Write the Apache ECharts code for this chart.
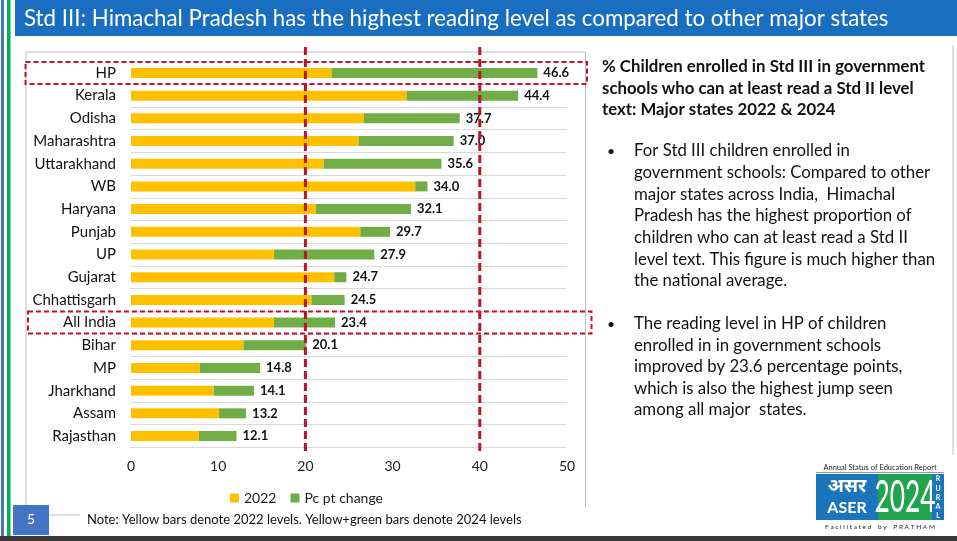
<!DOCTYPE html>
<html><head><meta charset="utf-8">
<script src="https://cdn.jsdelivr.net/npm/echarts@6/dist/echarts.min.js"></script>
<style>html,body{margin:0;padding:0;background:#fff;}#c{width:957px;height:541px;}</style>
</head><body><div id="c"></div>
<script>
const categories = ['HP','Kerala','Odisha','Maharashtra','Uttarakhand','WB','Haryana','Punjab','UP','Gujarat','Chhattisgarh','All India','Bihar','MP','Jharkhand','Assam','Rajasthan'];
const level2022 = [23.0,31.6,26.7,26.1,22.1,32.6,21.2,26.3,16.4,23.3,20.7,16.4,12.9,7.9,9.5,10.1,7.8];
const level2024 = [46.6,44.4,37.7,37.0,35.6,34.0,32.1,29.7,27.9,24.7,24.5,23.4,20.1,14.8,14.1,13.2,12.1];
const change = level2024.map((v,i)=>Math.round((v-level2022[i])*10)/10);
const refLines = [20,40];
const highlighted = ['HP','All India'];
const FONT = 'Lato, "Open Sans", sans-serif';

const chart = echarts.init(document.getElementById('c'));
chart.setOption({
  animation:false,
  textStyle:{fontFamily:FONT},
  grid:{left:131,right:390,top:61.6,height:385.8,containLabel:false},
  xAxis:{type:'value',min:0,max:50,interval:10,
    axisLine:{show:false},axisTick:{show:false},splitLine:{show:false},
    axisLabel:{fontSize:14,color:'#222',margin:12,fontFamily:FONT}},
  yAxis:{type:'category',data:categories,inverse:true,
    axisLine:{show:false},axisTick:{show:false},
    splitLine:{show:true,lineStyle:{color:'#d9d9d9',width:1}},
    axisLabel:{fontSize:15,color:'#111',margin:15,fontFamily:FONT}},
  legend:{left:225,top:486,itemWidth:9,itemHeight:9,itemGap:14,icon:'rect',
    textStyle:{fontSize:14,color:'#222',fontFamily:FONT},data:['2022','Pc pt change']},
  series:[
    {name:'2022',type:'bar',stack:'t',data:level2022,barWidth:10,itemStyle:{color:'#FFC000'}},
    {name:'Pc pt change',type:'bar',stack:'t',data:change,barWidth:10,itemStyle:{color:'#70AD47'},
     label:{show:true,position:'right',distance:6,fontSize:13,fontWeight:'bold',color:'#111',fontFamily:FONT,
       formatter:p=>level2024[p.dataIndex].toFixed(1)}}
  ]
});

function buildGraphics(){
  const g = [];
  g.push({type:'rect',shape:{x:1,y:0,width:3,height:537},style:{fill:'#4472C4'}});
  g.push({type:'rect',shape:{x:7,y:0,width:3.5,height:537},style:{fill:'#00B050'}});
  g.push({type:'rect',shape:{x:15,y:0,width:942,height:36},style:{fill:'#1A6EBF'}});
  g.push({type:'text',x:24,y:19,style:{text:'Std III: Himachal Pradesh has the highest reading level as compared to other major states',
    fill:'#fff',font:'22.3px '+FONT,textVerticalAlign:'middle'}});
  g.push({type:'polyline',shape:{points:[[26,505],[26,52],[585.5,52],[585.5,507]]},style:{stroke:'#bfbfbf',lineWidth:1,fill:null}});
  g.push({type:'line',shape:{x1:953,y1:45,x2:953,y2:455},style:{stroke:'#bfbfbf',lineWidth:1}});
  refLines.forEach(v=>{
    const x = chart.convertToPixel({xAxisIndex:0},v);
    g.push({type:'line',z:50,shape:{x1:x,y1:47,x2:x,y2:454},style:{stroke:'#C0102A',lineWidth:3,lineDash:[8,4]}});
  });
  highlighted.forEach((c,i)=>{
    const y = chart.convertToPixel({yAxisIndex:0},c);
    const x0 = i===0?25.5:28, x1 = i===0?587:591.5;
    g.push({type:'rect',z:50,shape:{x:x0,y:y-11,width:x1-x0,height:22},style:{fill:null,stroke:'#C0102A',lineWidth:2,lineDash:[5,3]}});
  });
  const head = ['% Children enrolled in Std III in government','schools who can at least read a Std II level','text: Major states 2022 & 2024'];
  const headY = [67,88.5,110];
  head.forEach((t,i)=>g.push({type:'text',x:602,y:headY[i],style:{text:t,fill:'#111',font:'bold 16.8px '+FONT,textVerticalAlign:'middle'}}));
  const b1 = ['For Std III children enrolled in','government schools: Compared to other','major states across India,  Himachal','Pradesh has the highest proportion of','children who can at least read a Std II','level text. This figure is much higher than','the national average.'];
  const b1Y = [151,173,195,216,238,259.5,281];
  const b2 = ['The reading level in HP of children','enrolled in in government schools','improved by 23.6 percentage points,','which is also the highest jump seen','among all major  states.'];
  const b2Y = [324,345.5,367,388.5,410];
  g.push({type:'text',x:607,y:151,style:{text:'•',fill:'#111',font:'14px '+FONT,textVerticalAlign:'middle'}});
  g.push({type:'text',x:607,y:324,style:{text:'•',fill:'#111',font:'14px '+FONT,textVerticalAlign:'middle'}});
  b1.forEach((t,i)=>g.push({type:'text',x:634,y:b1Y[i],style:{text:t,fill:'#111',font:'16.8px '+FONT,textVerticalAlign:'middle'}}));
  b2.forEach((t,i)=>g.push({type:'text',x:634,y:b2Y[i],style:{text:t,fill:'#111',font:'16.8px '+FONT,textVerticalAlign:'middle'}}));
  g.push({type:'rect',shape:{x:13,y:505,width:36,height:30},style:{fill:'#4472C4'}});
  g.push({type:'text',x:31,y:519,style:{text:'5',fill:'#fff',font:'14px '+FONT,textAlign:'center',textVerticalAlign:'middle'}});
  g.push({type:'line',shape:{x1:49,y1:515,x2:80,y2:515},style:{stroke:'#bfbfbf',lineWidth:1}});
  g.push({type:'text',x:87,y:520,style:{text:'Note: Yellow bars denote 2022 levels. Yellow+green bars denote 2024 levels',fill:'#111',font:'13px '+FONT,textVerticalAlign:'middle'}});
  g.push({type:'rect',shape:{x:0,y:536,width:957,height:5},style:{fill:'#3A3A3A'}});
  // logo
  g.push({type:'text',x:880,y:468,style:{text:'Annual Status of Education Report',fill:'#222',font:'7.5px '+FONT,textAlign:'center',textVerticalAlign:'middle'}});
  g.push({type:'line',shape:{x1:816,y1:472.5,x2:944,y2:472.5},style:{stroke:'#555',lineWidth:0.6}});
  g.push({type:'rect',shape:{x:816,y:474,width:62,height:46},style:{fill:'#1B75BB'}});
  g.push({type:'rect',shape:{x:878,y:474,width:54,height:46},style:{fill:'#22A34F'}});
  g.push({type:'rect',shape:{x:932,y:474,width:12,height:46},style:{fill:'#1B75BB'}});
  g.push({type:'text',x:847,y:487,style:{text:'असर',fill:'#fff',font:'bold 19px "Noto Sans", sans-serif',textAlign:'center',textVerticalAlign:'middle'}});
  g.push({type:'text',x:847,y:508,style:{text:'ASER',fill:'#fff',font:'bold 16px '+FONT,textAlign:'center',textVerticalAlign:'middle'}});
  g.push({type:'text',x:905,y:498,scaleX:0.6,style:{text:'2024',fill:'#fff',font:'44px "Liberation Sans Narrow", '+FONT,textAlign:'center',textVerticalAlign:'middle'}});
  ['R','U','R','A','L'].forEach((ch,i)=>g.push({type:'text',x:938,y:479+i*9.3,style:{text:ch,fill:'#fff',font:'bold 7px '+FONT,textAlign:'center',textVerticalAlign:'middle'}}));
  g.push({type:'text',x:880,y:527,style:{text:'F a c i l i t a t e d    b y    P R A T H A M',fill:'#222',font:'6.5px '+FONT,textAlign:'center',textVerticalAlign:'middle'}});
  return g;
}
chart.setOption({graphic:{elements:buildGraphics()}});
</script></body></html>
